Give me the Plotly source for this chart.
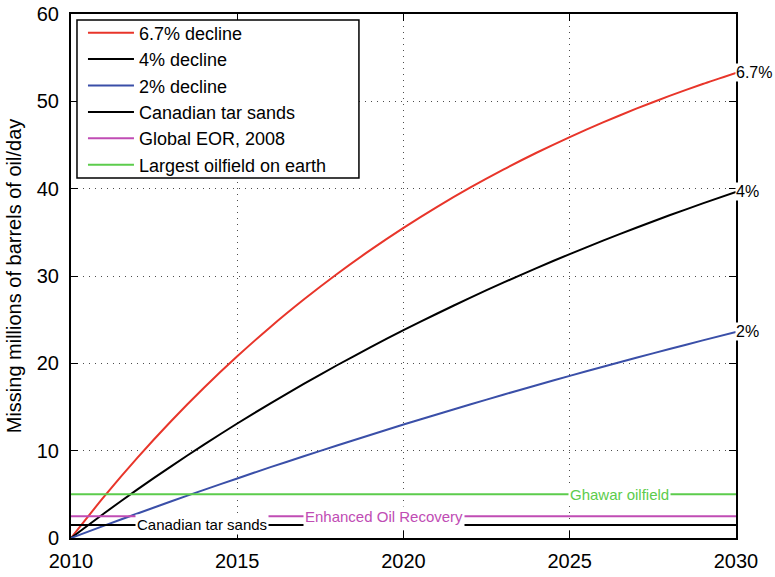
import plotly.graph_objects as go

# Years covered by the projection
years = list(range(2010, 2031))

# Missing production (millions of barrels/day) for each decline rate
decline_67 = [0.0, 4.76, 9.20, 13.34, 17.20, 20.80, 24.17, 27.30, 30.23, 32.96, 35.51,
              37.89, 40.11, 42.18, 44.11, 45.91, 47.59, 49.16, 50.62, 51.99, 53.26]
decline_4 = [0.0, 2.84, 5.57, 8.18, 10.70, 13.11, 15.42, 17.65, 19.78, 21.83, 23.80,
             25.68, 27.50, 29.24, 30.91, 32.51, 34.05, 35.53, 36.95, 38.31, 39.62]
decline_2 = [0.0, 1.42, 2.81, 4.18, 5.51, 6.82, 8.11, 9.36, 10.60, 11.80, 12.99,
             14.15, 15.28, 16.40, 17.49, 18.56, 19.61, 20.64, 21.64, 22.63, 23.60]

# Reference supply levels (millions of barrels/day)
ref_years = [2010, 2030]
tar_sands = 1.5
global_eor = 2.5
ghawar = 5.0

end_labels = ["6.7%", "4%", "2%"]

FONT = "Liberation Sans, Arial, Helvetica, sans-serif"
RED = "#e8352a"
BLACK = "#000000"
BLUE = "#3a4fa8"
MAGENTA = "#c04cb4"
GREEN = "#5ccc4c"

fig = go.Figure()

curves = [
    ("6.7% decline", decline_67, RED),
    ("4% decline", decline_4, BLACK),
    ("2% decline", decline_2, BLUE),
]
for name, vals, col in curves:
    fig.add_trace(go.Scatter(x=years, y=vals, mode="lines", name=name,
                             line=dict(color=col, width=2, shape="spline", smoothing=0.6)))

levels = [
    ("Canadian tar sands", tar_sands, BLACK),
    ("Global EOR, 2008", global_eor, MAGENTA),
    ("Largest oilfield on earth", ghawar, GREEN),
]
for name, val, col in levels:
    fig.add_trace(go.Scatter(x=ref_years, y=[val, val], mode="lines", name=name,
                             line=dict(color=col, width=2)))

# Decline-rate labels at the right end of each curve
for lab, vals in zip(end_labels, [decline_67, decline_4, decline_2]):
    fig.add_annotation(x=years[-1], y=vals[-1], text=lab, showarrow=False,
                       xanchor="left", yanchor="middle", xshift=-1,
                       bgcolor="white", borderpad=0,
                       font=dict(family=FONT, size=16, color="black"))

# Inline labels on the supply levels
inline = [
    ("Canadian tar sands", 2013.95, tar_sands, BLACK),
    ("Enhanced Oil Recovery", 2019.4, global_eor, MAGENTA),
    ("Ghawar oilfield", 2026.5, ghawar, GREEN),
]
for txt, xpos, val, col in inline:
    fig.add_annotation(x=xpos, y=val, text=txt, showarrow=False,
                       xanchor="center", yanchor="middle",
                       bgcolor="white", borderpad=1,
                       font=dict(family=FONT, size=15, color=col))

# Frame around the legend entries
fig.add_shape(type="rect", xref="paper", yref="paper",
              x0=0.009, x1=0.433, y0=0.687, y1=0.9885,
              line=dict(color="black", width=1.5), fillcolor="white", layer="above")

axis_common = dict(
    showline=True, linecolor="black", linewidth=2, mirror="ticks",
    ticks="inside", ticklen=7, tickwidth=1, tickcolor="black",
    showgrid=True, gridcolor="rgba(0,0,0,0.7)", gridwidth=1, griddash="1px,5px",
    zeroline=False, automargin=False,
    tickfont=dict(family=FONT, size=20, color="black"),
)

fig.update_xaxes(range=[2010, 2030], tickmode="linear", tick0=2010, dtick=5,
                 ticklabelstandoff=4, **axis_common)
fig.update_yaxes(range=[0, 60], tickmode="linear", tick0=0, dtick=10,
                 ticklabelstandoff=6,
                 title=dict(text="Missing millions of barrels of oil/day",
                            font=dict(family=FONT, size=20, color="black"), standoff=10),
                 **axis_common)

fig.update_layout(
    width=775, height=577,
    margin=dict(l=71, r=39, t=14, b=39),
    plot_bgcolor="white", paper_bgcolor="white",
    showlegend=True,
    legend=dict(x=0.018, y=0.999, xanchor="left", yanchor="top",
                bgcolor="rgba(0,0,0,0)", borderwidth=0,
                font=dict(family=FONT, size=18, color="black"),
                itemwidth=46, tracegroupgap=0),
    font=dict(family=FONT),
)

fig.write_html("out.html")
